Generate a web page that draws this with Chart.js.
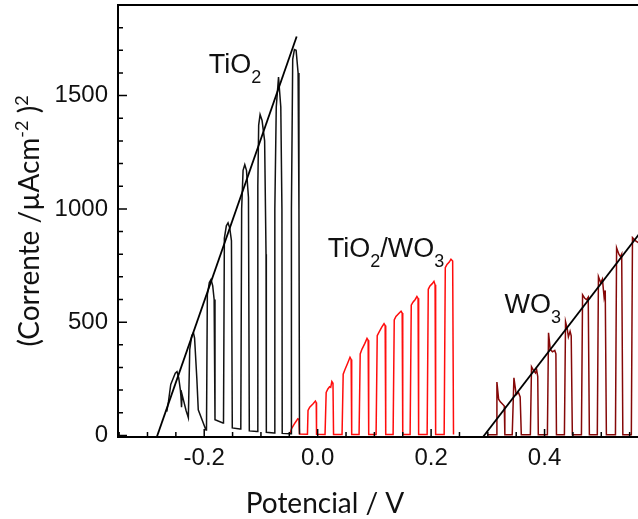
<!DOCTYPE html>
<html>
<head>
<meta charset="utf-8">
<script src="https://cdn.jsdelivr.net/npm/chart.js@4.4.1/dist/chart.umd.min.js"></script>
<style>
  html, body { margin: 0; padding: 0; background: #fff; overflow: hidden; }
  #wrap { width: 662px; height: 519px; }
</style>
</head>
<body>
<div id="wrap"><canvas id="c" width="662" height="519"></canvas></div>
<script>
// TiO2 chopped-light curve (potential in V, current density squared)
const tio2V = [
  -0.266, -0.263, -0.259, -0.255, -0.251, -0.248, -0.245, -0.242, -0.241, -0.240, -0.239, -0.236, -0.232, -0.228,
  -0.227, -0.2255, -0.222, -0.219, -0.217, -0.213, -0.2105, -0.197,
  -0.196, -0.1945, -0.191, -0.188, -0.185, -0.1825, -0.181, -0.167,
  -0.166, -0.1645, -0.161, -0.158, -0.155, -0.152, -0.1505, -0.137,
  -0.1355, -0.134, -0.1315, -0.1285, -0.1255, -0.122, -0.1205, -0.107,
  -0.106, -0.1055, -0.104, -0.1015, -0.098, -0.0935, -0.091, -0.0905, -0.077,
  -0.0765, -0.0755, -0.073, -0.069, -0.065, -0.063, -0.0625, -0.047,
  -0.0465, -0.046, -0.044, -0.041, -0.038, -0.0345, -0.033, -0.032
];
const tio2J = [
  105, 150, 225, 250, 275, 282, 255, 200, 170, 125, 180, 150, 110, 78,
  78, 380, 440, 453, 430, 250, 113, 24,
  24, 620, 675, 688, 660, 600, 69, 55,
  55, 870, 925, 938, 915, 860, 33, 28,
  28, 1000, 1170, 1195, 1170, 1050, 20, 17,
  17, 1100, 1370, 1416, 1390, 1300, 800, 14, 11,
  11, 1000, 1450, 1582, 1450, 1000, 9, 7,
  7, 1000, 1660, 1703, 1700, 1600, 1000, 5
];

// TiO2/WO3 curve
const mixV = [
  -0.049, -0.046, -0.040, -0.035, -0.033, -0.032, -0.019,
  -0.018, -0.017, -0.014, -0.008, -0.004, -0.0025, -0.002, 0.013,
  0.014, 0.015, 0.018, 0.021, 0.023, 0.025, 0.027, 0.028, 0.043,
  0.044, 0.045, 0.048, 0.053, 0.057, 0.059, 0.060, 0.073,
  0.074, 0.075, 0.078, 0.083, 0.087, 0.089, 0.090, 0.103,
  0.104, 0.105, 0.108, 0.113, 0.117, 0.119, 0.120, 0.133,
  0.134, 0.135, 0.138, 0.143, 0.147, 0.149, 0.150, 0.163,
  0.164, 0.165, 0.168, 0.172, 0.175, 0.177, 0.178, 0.193,
  0.194, 0.195, 0.198, 0.202, 0.205, 0.207, 0.208, 0.223,
  0.224, 0.225, 0.228, 0.232, 0.235, 0.238, 0.2395
];
const mixJ = [
  6, 30, 55, 73, 70, 6, 5,
  5, 110, 125, 140, 152, 145, 5, 4,
  4, 190, 205, 215, 212, 238, 230, 4, 4,
  4, 270, 290, 320, 345, 335, 4, 4,
  4, 360, 380, 405, 428, 420, 4, 4,
  4, 440, 455, 478, 493, 485, 4, 4,
  4, 510, 525, 538, 548, 540, 4, 4,
  4, 575, 588, 600, 613, 605, 4, 4,
  4, 645, 660, 670, 680, 665, 4, 4,
  4, 740, 755, 765, 778, 770, 4
];

// WO3 curve
const wo3V = [
  0.300, 0.314,
  0.315, 0.316, 0.319, 0.322, 0.327, 0.329, 0.330, 0.343,
  0.344, 0.346, 0.350, 0.354, 0.357, 0.359, 0.374,
  0.375, 0.377, 0.381, 0.384, 0.386, 0.388, 0.389, 0.404,
  0.405, 0.407, 0.410, 0.414, 0.418, 0.420, 0.421, 0.434,
  0.435, 0.437, 0.440, 0.442, 0.445, 0.447, 0.449, 0.464,
  0.465, 0.467, 0.471, 0.474, 0.477, 0.479, 0.492,
  0.493, 0.495, 0.499, 0.502, 0.505, 0.507, 0.509, 0.524,
  0.525, 0.527, 0.531, 0.534, 0.536, 0.538, 0.552,
  0.553, 0.555, 0.560, 0.566, 0.568, 0.580
];
const wo3J = [
  3, 3,
  3, 236, 160, 148, 135, 130, 3, 3,
  3, 254, 180, 190, 170, 3, 3,
  3, 303, 285, 276, 290, 260, 3, 3,
  3, 453, 380, 369, 375, 360, 3, 3,
  3, 502, 470, 435, 460, 440, 3, 3,
  3, 621, 605, 599, 610, 3, 3,
  3, 701, 674, 690, 610, 640, 3, 3,
  3, 828, 800, 789, 800, 3, 3,
  3, 873, 860, 850, 3, 3
];

// linear fits
const tio2FitV = [-0.284, -0.037];
const tio2FitJ = [-10, 1761];
const wo3FitV = [0.289, 0.600];
const wo3FitJ = [-15, 997];

// axis ticks (labelled ones are the majors)
const xMajor = [-0.2, 0.0, 0.2, 0.4];
const yMajor = [0, 500, 1000, 1500];
const xMinorStep = 0.05;
const yMinorStep = 100;

const toXY = (xs, ys) => xs.map((x, i) => ({ x, y: ys[i] }));
const isMajor = (list, v) => list.some(m => Math.abs(m - v) < 1e-6);

function stepTicks(min, max, step) {
  const out = [];
  for (let k = Math.ceil(min / step - 1e-9); k * step <= max + 1e-9; k++) {
    out.push({ value: Math.round(k * step * 1000) / 1000 });
  }
  return out;
}

function drawRich(ctx, parts, x, y) {
  let cx = x;
  parts.forEach(([t, font, dy]) => {
    ctx.font = font;
    ctx.fillText(t, cx, y + dy);
    cx += ctx.measureText(t).width;
  });
}
function richWidth(ctx, parts) {
  let w = 0;
  parts.forEach(([t, font]) => { ctx.font = font; w += ctx.measureText(t).width; });
  return w;
}

const ANN = '27px "Liberation Sans"';
const SUB = '18px "Liberation Sans"';
const TTL = '28px Lato';
const SUP = '18px Lato';

const decor = {
  id: 'decor',
  afterDraw(chart) {
    const { ctx, chartArea: a, scales: { x, y } } = chart;
    ctx.save();
    ctx.strokeStyle = '#000';
    ctx.lineWidth = 2;
    ctx.strokeRect(a.left, a.top, a.right - a.left, a.bottom - a.top);

    ctx.lineWidth = 1.5;
    ctx.beginPath();
    x.ticks.forEach(t => {
      const px = x.getPixelForValue(t.value);
      const len = isMajor(xMajor, t.value) ? 8 : 5;
      ctx.moveTo(px, a.bottom);
      ctx.lineTo(px, a.bottom - len);
    });
    y.ticks.forEach(t => {
      const py = y.getPixelForValue(t.value);
      const len = isMajor(yMajor, t.value) ? 9 : 5;
      ctx.moveTo(a.left, py);
      ctx.lineTo(a.left + len, py);
    });
    ctx.stroke();

    ctx.fillStyle = '#111';
    ctx.textBaseline = 'alphabetic';
    ctx.textAlign = 'left';
    drawRich(ctx, [['TiO', ANN, 0], ['2', SUB, 10]],
      x.getPixelForValue(-0.192), y.getPixelForValue(1601));
    drawRich(ctx, [['TiO', ANN, 0], ['2', SUB, 10], ['/WO', ANN, 0], ['3', SUB, 10]],
      x.getPixelForValue(0.0176), y.getPixelForValue(789));
    drawRich(ctx, [['WO', ANN, 0], ['3', SUB, 10]],
      x.getPixelForValue(0.3295), y.getPixelForValue(541));

    // axis titles
    const xt = [['Potencial / V', TTL, 0]];
    drawRich(ctx, xt, 325 - richWidth(ctx, xt) / 2, 513);

    const yt = [['(Corrente /\u00b5Acm', TTL, 0], ['-2', SUP, -11], [' )', TTL, 0], ['2', SUP, -11]];
    const w = richWidth(ctx, yt);
    ctx.translate(39, (a.top + a.bottom) / 2 + w / 2);
    ctx.rotate(-Math.PI / 2);
    drawRich(ctx, yt, 0, 0);
    ctx.restore();
  }
};

const lineDs = (xs, ys, color, width) => ({
  data: toXY(xs, ys),
  borderColor: color,
  borderWidth: width,
  pointRadius: 0,
  tension: 0,
  fill: false
});

new Chart(document.getElementById('c'), {
  type: 'line',
  data: {
    datasets: [
      lineDs(tio2FitV, tio2FitJ, '#000', 1.8),
      lineDs(wo3FitV, wo3FitJ, '#000', 1.8),
      lineDs(tio2V, tio2J, '#111', 1.5),
      lineDs(mixV, mixJ, '#ff0d0d', 1.5),
      lineDs(wo3V, wo3J, '#850808', 1.5)
    ]
  },
  options: {
    responsive: false,
    animation: false,
    devicePixelRatio: 1,
    layout: { padding: { top: 5, right: 4, left: 0, bottom: 0 } },
    plugins: { legend: { display: false }, tooltip: { enabled: false } },
    scales: {
      x: {
        type: 'linear',
        min: -0.352,
        max: 0.6,
        grid: { display: false, drawTicks: false },
        border: { display: false },
        afterBuildTicks: s => { s.ticks = stepTicks(s.min, s.max, xMinorStep); },
        ticks: {
          autoSkip: false,
          maxRotation: 0,
          padding: 7,
          color: '#111',
          font: { family: 'Liberation Sans', size: 24 },
          callback: v => isMajor(xMajor, v) ? v.toFixed(1) : ''
        },
        afterFit: s => { s.height = 82; s.paddingLeft = 0; s.paddingRight = 0; }
      },
      y: {
        min: -7,
        max: 1900,
        grid: { display: false, drawTicks: false },
        border: { display: false },
        afterBuildTicks: s => { s.ticks = stepTicks(s.min, s.max, yMinorStep); },
        ticks: {
          autoSkip: false,
          padding: 10,
          color: '#111',
          font: { family: 'Liberation Sans', size: 24 },
          callback: v => isMajor(yMajor, v) ? String(Math.round(v)) : ''
        },
        afterFit: s => { s.width = 118; s.paddingTop = 0; s.paddingBottom = 0; }
      }
    }
  },
  plugins: [decor]
});
</script>
</body>
</html>
